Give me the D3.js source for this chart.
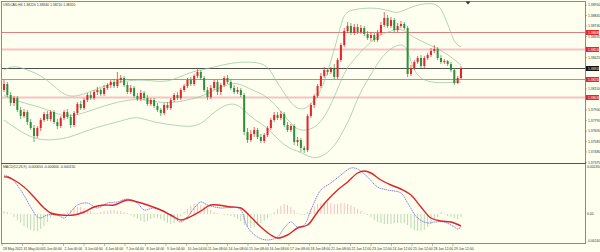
<!DOCTYPE html>
<html><head><meta charset="utf-8">
<script src="https://cdn.jsdelivr.net/npm/d3@7"></script>
<style>body{margin:0;background:#fffff0}text{font-family:"Liberation Sans",Arial,sans-serif}</style>
</head><body><script>
var width=600,height=252;

// H4 candles
var open=[1.3810,1.3816,1.3805,1.3797,1.3802,1.3790,1.3784,1.3788,1.3778,1.3772,1.3764,1.3772,1.3780,1.3786,1.3781,1.3788,1.3778,1.3774,1.3782,1.3788,
1.3783,1.3775,1.3787,1.3796,1.3792,1.3800,1.3805,1.3802,1.3808,1.3810,1.3806,1.3812,1.3815,1.3818,1.3814,1.3820,1.3822,1.3815,1.3808,1.3812,
1.3804,1.3801,1.3807,1.3802,1.3796,1.3800,1.3794,1.3790,1.3787,1.3795,1.3792,1.3800,1.3805,1.3802,1.3810,1.3814,1.3820,1.3816,1.3824,1.3828,
1.3822,1.3810,1.3803,1.3812,1.3818,1.3808,1.3815,1.3822,1.3818,1.3812,1.3808,1.3810,1.3805,1.3768,1.3760,1.3766,1.3770,1.3763,1.3759,1.3765,
1.3772,1.3780,1.3785,1.3782,1.3786,1.3775,1.3770,1.3774,1.3758,1.3760,1.3752,1.3750,1.3784,1.3795,1.3804,1.3814,1.3824,1.3830,1.3828,1.3831,
1.3823,1.3840,1.3855,1.3869,1.3874,1.3867,1.3873,1.3868,1.3872,1.3866,1.3862,1.3865,1.3860,1.3867,1.3875,1.3882,1.3874,1.3880,1.3870,1.3874,
1.3876,1.3872,1.3826,1.3832,1.3838,1.3842,1.3834,1.3842,1.3845,1.3849,1.3851,1.3842,1.3838,1.3839,1.3836,1.3830,1.3817,1.3822];
var high=[1.3820,1.3818,1.3808,1.3804,1.3804,1.3793,1.3791,1.3790,1.3781,1.3775,1.3774,1.3782,1.3788,1.3789,1.3790,1.3790,1.3781,1.3784,1.3790,1.3791,
1.3786,1.3789,1.3798,1.3799,1.3802,1.3807,1.3808,1.3810,1.3813,1.3812,1.3815,1.3817,1.3820,1.3821,1.3828,1.3825,1.3824,1.3818,1.3815,1.3814,
1.3807,1.3810,1.3809,1.3805,1.3802,1.3802,1.3797,1.3792,1.3797,1.3798,1.3802,1.3807,1.3808,1.3812,1.3816,1.3822,1.3823,1.3826,1.3832,1.3830,
1.3824,1.3813,1.3815,1.3820,1.3820,1.3817,1.3824,1.3825,1.3820,1.3815,1.3813,1.3812,1.3807,1.3772,1.3770,1.3773,1.3772,1.3766,1.3767,1.3774,
1.3782,1.3788,1.3788,1.3789,1.3788,1.3778,1.3776,1.3776,1.3763,1.3762,1.3754,1.3786,1.3797,1.3806,1.3816,1.3827,1.3833,1.3832,1.3833,1.3836,
1.3842,1.3857,1.3872,1.3878,1.3877,1.3876,1.3876,1.3875,1.3874,1.3869,1.3868,1.3867,1.3870,1.3878,1.3888,1.3885,1.3883,1.3882,1.3877,1.3879,
1.3878,1.3874,1.3835,1.3840,1.3844,1.3845,1.3844,1.3847,1.3852,1.3855,1.3853,1.3845,1.3841,1.3840,1.3838,1.3832,1.3824,1.3834];
var low=[1.3808,1.3803,1.3794,1.3794,1.3788,1.3781,1.3782,1.3775,1.3770,1.3758,1.3762,1.3769,1.3778,1.3779,1.3779,1.3776,1.3771,1.3772,1.3780,1.3781,
1.3772,1.3773,1.3785,1.3790,1.3790,1.3798,1.3800,1.3800,1.3805,1.3804,1.3804,1.3810,1.3812,1.3812,1.3812,1.3817,1.3813,1.3806,1.3806,1.3802,
1.3799,1.3799,1.3800,1.3794,1.3794,1.3792,1.3788,1.3784,1.3785,1.3790,1.3790,1.3798,1.3800,1.3800,1.3808,1.3812,1.3814,1.3814,1.3822,1.3820,
1.3808,1.3800,1.3801,1.3810,1.3805,1.3805,1.3813,1.3816,1.3810,1.3806,1.3806,1.3803,1.3765,1.3757,1.3758,1.3763,1.3761,1.3757,1.3757,1.3763,
1.3770,1.3778,1.3780,1.3780,1.3773,1.3768,1.3768,1.3755,1.3754,1.3748,1.3747,1.3748,1.3782,1.3792,1.3802,1.3812,1.3822,1.3825,1.3826,1.3821,
1.3821,1.3838,1.3853,1.3867,1.3865,1.3865,1.3866,1.3866,1.3864,1.3860,1.3859,1.3858,1.3858,1.3865,1.3873,1.3872,1.3872,1.3868,1.3868,1.3872,
1.3870,1.3823,1.3824,1.3830,1.3836,1.3832,1.3832,1.3840,1.3843,1.3847,1.3840,1.3836,1.3836,1.3834,1.3828,1.3815,1.3816,1.3821];
var close=[1.3816,1.3805,1.3797,1.3802,1.3790,1.3784,1.3788,1.3778,1.3772,1.3764,1.3772,1.3780,1.3786,1.3781,1.3788,1.3778,1.3774,1.3782,1.3788,1.3783,
1.3775,1.3787,1.3796,1.3792,1.3800,1.3805,1.3802,1.3808,1.3810,1.3806,1.3812,1.3815,1.3818,1.3814,1.3820,1.3822,1.3815,1.3808,1.3812,1.3804,
1.3801,1.3807,1.3802,1.3796,1.3800,1.3794,1.3790,1.3787,1.3795,1.3792,1.3800,1.3805,1.3802,1.3810,1.3814,1.3820,1.3816,1.3824,1.3828,1.3822,
1.3810,1.3803,1.3812,1.3818,1.3808,1.3815,1.3822,1.3818,1.3812,1.3808,1.3810,1.3805,1.3768,1.3760,1.3766,1.3770,1.3763,1.3759,1.3765,1.3772,
1.3780,1.3785,1.3782,1.3786,1.3775,1.3770,1.3774,1.3758,1.3760,1.3752,1.3750,1.3784,1.3795,1.3804,1.3814,1.3824,1.3830,1.3828,1.3831,1.3823,
1.3840,1.3855,1.3869,1.3874,1.3867,1.3873,1.3868,1.3872,1.3866,1.3862,1.3865,1.3860,1.3867,1.3875,1.3882,1.3874,1.3880,1.3870,1.3874,1.3876,
1.3872,1.3826,1.3832,1.3838,1.3842,1.3834,1.3842,1.3845,1.3849,1.3851,1.3842,1.3838,1.3839,1.3836,1.3830,1.3817,1.3822,1.3832];

// Bollinger bands (20,2): [candle index, price]
var bandUpper=[[0,1.3830],[3,1.3835],[7,1.3830],[11,1.3825],[15,1.3814],[18,1.3805],[21,1.3803],[25,1.3807],[29,1.3813],[34,1.3818],[39,1.3820],[43,1.3820],[49,1.3817],[55,1.3827],[59,1.3830],[63,1.3833],[68,1.3837],[72,1.3838],[75,1.3838],[79,1.3835],[81,1.3822],[84,1.3807],[87,1.3792],[90,1.3790],[92,1.3796],[95,1.3808],[97,1.3828],[99,1.3850],[101,1.3875],[102,1.3886],[104,1.3890],[108,1.3892],[113,1.3892],[117,1.3887],[119,1.3888],[122,1.3893],[125,1.3896],[129,1.3897],[131,1.3892],[132,1.3884],[134,1.3868],[135,1.3857],[137,1.3853]];
var bandMid=[[0,1.3805],[3,1.3800],[7,1.3796],[11,1.3793],[15,1.3787],[19,1.3783],[23,1.3786],[29,1.3793],[34,1.3798],[39,1.3801],[43,1.3800],[49,1.3796],[55,1.3800],[59,1.3803],[65,1.3813],[69,1.3818],[72,1.3814],[75,1.3809],[79,1.3804],[84,1.3785],[87,1.3772],[90,1.3768],[95,1.3775],[99,1.3802],[102,1.3828],[104,1.3837],[109,1.3856],[113,1.3866],[117,1.3870],[119,1.3872],[123,1.3862],[127,1.3856],[131,1.3850],[134,1.3843],[137,1.3835]];
var bandLower=[[0,1.3780],[5,1.3768],[10,1.3760],[15,1.3760],[19,1.3762],[23,1.3767],[28,1.3773],[34,1.3778],[39,1.3783],[41,1.3782],[46,1.3777],[51,1.3775],[55,1.3773],[59,1.3775],[62,1.3785],[65,1.3793],[69,1.3798],[72,1.3790],[75,1.3780],[79,1.3773],[84,1.3753],[89,1.3748],[92,1.3742],[95,1.3742],[99,1.3753],[101,1.3765],[104,1.3783],[106,1.3803],[109,1.3820],[112,1.3837],[115,1.3850],[119,1.3857],[121,1.3852],[123,1.3825],[127,1.3818],[131,1.3817],[137,1.3818]];

// MACD(12,26,9): [candle index, value]
var macdMain=[[0,0.00195],[2,0.0018],[5,0.0012],[8,0.00035],[10,-0.00015],[11,-0.0002],[13,-0.00005],[16,-0.00005],[18,-0.0002],[20,0.0001],[22,0.00045],[25,0.00055],[28,0.0003],[31,0.00055],[34,0.0006],[37,0.00075],[40,0.00055],[42,0.0002],[45,0.0003],[48,0.0001],[51,-0.0002],[53,-0.0004],[55,-0.00015],[57,0.0003],[59,0.0006],[61,0.00045],[65,0.0003],[69,0.00035],[71,0.0002],[73,-0.00065],[76,-0.00115],[79,-0.0013],[82,-0.00115],[84,-0.0007],[86,-0.0004],[88,-0.00065],[90,-0.00055],[92,0.0002],[95,0.0012],[98,0.00155],[101,0.00195],[104,0.0023],[106,0.00225],[109,0.00185],[112,0.00135],[115,0.0012],[119,0.00105],[121,0.00055],[124,-0.0002],[127,-0.00045],[129,-0.0004],[132,-0.0004],[135,-0.00065],[136,-0.00075],[137,-0.00065]];
var macdSignal=[[0,0.00185],[1,0.00185],[3,0.0017],[6,0.00135],[9,0.00085],[12,0.0003],[14,0.00005],[17,-0.00005],[21,-0.00005],[24,0.0001],[27,0.00035],[30,0.00045],[33,0.00045],[37,0.0007],[40,0.0006],[43,0.00045],[47,0.0002],[50,-0.00005],[53,-0.0003],[55,-0.0002],[59,0.00015],[62,0.00045],[68,0.00035],[71,0.0003],[74,-0.00015],[77,-0.00065],[80,-0.00105],[82,-0.0012],[85,-0.00105],[88,-0.0007],[91,-0.00055],[94,0.0001],[97,0.0007],[100,0.0012],[103,0.0016],[106,0.00205],[108,0.00215],[110,0.00205],[113,0.0017],[116,0.00145],[119,0.00125],[122,0.00095],[125,0.00035],[128,-0.0002],[131,-0.00035],[134,-0.0004],[137,-0.0006]];
var macdHist=[0.00015,0.0001,0.00005,-0.00015,-0.0003,-0.00045,-0.0006,-0.0007,-0.0008,-0.00085,
-0.00085,-0.00075,-0.0006,-0.0004,-0.0002,-0.0001,-0.00005,0,0.00005,0.0001,
0.0002,0.0003,0.00035,0.00035,0.0003,0.0002,0.00015,0.00005,0.00005,0.0001,
0.00015,0.00015,0.0002,0.0002,0.00015,0.00015,0.0001,0.00005,-0.00005,-0.00015,
-0.00025,-0.00035,-0.0004,-0.00035,-0.00025,-0.0002,-0.0002,-0.00025,-0.00035,-0.00045,
-0.0005,-0.00045,-0.0003,-0.0001,0.0001,0.00025,0.0004,0.0005,0.0005,0.00045,
0.0004,0.0003,0.0002,0.0001,0.00005,0,-0.00005,-0.00005,-0.0001,-0.00015,
-0.00025,-0.00035,-0.00055,-0.00065,-0.0007,-0.00065,-0.00055,-0.00045,-0.00035,-0.0002,
-0.00005,0.0001,0.00025,0.0004,0.0005,0.00045,0.00035,0.0002,0.00005,-0.00005,
-0.00005,0.0001,0.00025,0.0004,0.0005,0.00055,0.0006,0.0006,0.00055,0.0005,
0.0005,0.00055,0.00055,0.0005,0.00045,0.00035,0.00025,0.00015,0.00005,-0.00005,
-0.00015,-0.0003,-0.0004,-0.00045,-0.0005,-0.0005,-0.0005,-0.00045,-0.00045,-0.00045,
-0.00045,-0.00055,-0.0007,-0.0008,-0.00085,-0.00085,-0.0008,-0.00065,-0.0005,-0.0003,
-0.00015,0.0001,0.00005,-0.0001,-0.00015,-0.0002,-0.00025,-0.00015];

var levels=[1.3868,1.3851,1.3832,1.3821,1.3803];
var levelColors=["#e07f7f","#f6c2c2","#505050","#e07f7f","#f6c2c2"];
var dateLabels=["28 May 2021","31 May 00:00","1 Jun 00:00","2 Jun 00:00","3 Jun 04:00","4 Jun 04:00","7 Jun 04:00","8 Jun 04:00","9 Jun 04:00","10 Jun 04:00","11 Jun 08:00","14 Jun 08:00","15 Jun 08:00","16 Jun 08:00","17 Jun 08:00","18 Jun 08:00","21 Jun 08:00","22 Jun 12:00","23 Jun 12:00","24 Jun 12:00","25 Jun 12:00","28 Jun 12:00","29 Jun 12:00"];

var svg=d3.select("body").append("svg").attr("width",width).attr("height",height).style("display","block");
svg.append("rect").attr("width",width).attr("height",height).attr("fill","#fffff0");

var N=close.length;
var x=d3.scaleLinear().domain([0,N-1]).range([4,461]);
var y=d3.scaleLinear().domain([1.3900,1.3740]).range([0,160]);
var m=d3.scaleLinear().domain([0.00245,-0.0014]).range([165,242]);

// frame
var frame=svg.append("g").attr("stroke","#8a8a8a").attr("stroke-width",1).attr("fill","none");
frame.append("line").attr("x1",1).attr("x2",586).attr("y1",1.5).attr("y2",1.5);
frame.append("line").attr("x1",1.5).attr("x2",1.5).attr("y1",1).attr("y2",244);
frame.append("line").attr("x1",585.5).attr("x2",585.5).attr("y1",1).attr("y2",244);
frame.append("line").attr("x1",1).attr("x2",586).attr("y1",163.5).attr("y2",163.5).attr("stroke","#555");
frame.append("line").attr("x1",1).attr("x2",586).attr("y1",243.5).attr("y2",243.5);

// horizontal levels
svg.append("g").selectAll("line").data(levels).enter().append("line")
  .attr("x1",2).attr("x2",585)
  .attr("y1",function(d){return Math.round(y(d))+0.5;}).attr("y2",function(d){return Math.round(y(d))+0.5;})
  .attr("stroke",function(d,i){return levelColors[i];})
  .attr("stroke-width",function(d,i){return levelColors[i]=="#f6c2c2"?2:1;});

// bollinger
var band=d3.line().x(function(d){return x(d[0]);}).y(function(d){return y(d[1]);}).curve(d3.curveBasis);
[bandUpper,bandMid,bandLower].forEach(function(b){
  svg.append("path").attr("d",band(b)).attr("fill","none").attr("stroke","#8cc49a").attr("stroke-width",0.7);
});

// candles
var g=svg.append("g");
close.forEach(function(c,i){
  var o=open[i],col=c>=o?"#e3242b":"#2e8f3e";
  g.append("line").attr("x1",x(i)).attr("x2",x(i)).attr("y1",y(high[i])).attr("y2",y(low[i])).attr("stroke",col).attr("stroke-width",0.7);
  var t=y(Math.max(o,c)),b=y(Math.min(o,c));
  g.append("rect").attr("x",x(i)-1).attr("y",t).attr("width",2).attr("height",Math.max(0.7,b-t)).attr("fill",col);
});

// macd histogram + lines
svg.append("g").selectAll("line").data(macdHist).enter().append("line")
  .attr("x1",function(d,i){return x(i);}).attr("x2",function(d,i){return x(i);})
  .attr("y1",m(0)).attr("y2",function(d){return m(d);})
  .attr("stroke",function(d){return d>=0?"#efb0b0":"#a3d1a3";}).attr("stroke-width",0.8);
var ml=d3.line().x(function(d){return x(d[0]);}).y(function(d){return m(d[1]);}).curve(d3.curveCatmullRom);
svg.append("path").attr("d",ml(macdMain)).attr("fill","none").attr("stroke","#6b6bdc").attr("stroke-width",0.8).attr("stroke-dasharray","1.5,0.6");
svg.append("path").attr("d",ml(macdSignal)).attr("fill","none").attr("stroke","#e0232a").attr("stroke-width",1.4);

// right axis
var ticks=d3.range(16).map(function(k){return 5+k*10.5;});
var ax=svg.append("g").attr("font-size",3.4).attr("fill","#333");
ticks.forEach(function(t){
  ax.append("line").attr("x1",585).attr("x2",587).attr("y1",t).attr("y2",t).attr("stroke","#777").attr("stroke-width",0.5);
  var hit=levels.some(function(p){return Math.abs(y(p)-t)<4;});
  if(!hit) ax.append("text").attr("x",588).attr("y",t+1.2).text(y.invert(t).toFixed(5));
});
levels.forEach(function(p,i){
  var yy=Math.round(y(p))+0.5;
  ax.append("rect").attr("x",586).attr("y",yy-2.5).attr("width",13).attr("height",5).attr("fill",levelColors[i]=="#505050"?"#111":"#e02a2a");
  ax.append("text").attr("x",588).attr("y",yy+1.2).attr("fill","#fff").text(p.toFixed(5));
});
[[167,"0.002450"],[214,"0.00"],[241,"-0.00140"]].forEach(function(d){
  ax.append("text").attr("x",587).attr("y",d[0]+1.2).text(d[1]);
});

// shift marker
svg.append("path").attr("d","M465.5,1.5L470.5,1.5L468,4.5Z").attr("fill","#333");

// titles
svg.append("text").attr("x",3).attr("y",5.5).attr("font-size",3.4).attr("fill","#333").text("USDCAD,H4  1.38220 1.38340 1.38210 1.38320");
svg.append("text").attr("x",3).attr("y",167.5).attr("font-size",3.4).attr("fill","#333").text("MACD(12,26,9) -0.000650 -0.000600 -0.000150");

// dates
dateLabels.forEach(function(s,i){
  var xx=2+i*20.5;
  svg.append("line").attr("x1",xx).attr("x2",xx).attr("y1",244).attr("y2",246).attr("stroke","#777").attr("stroke-width",0.5);
  svg.append("text").attr("x",xx+1).attr("y",249.5).attr("font-size",3.4).attr("fill","#333").text(s);
});
</script></body></html>
